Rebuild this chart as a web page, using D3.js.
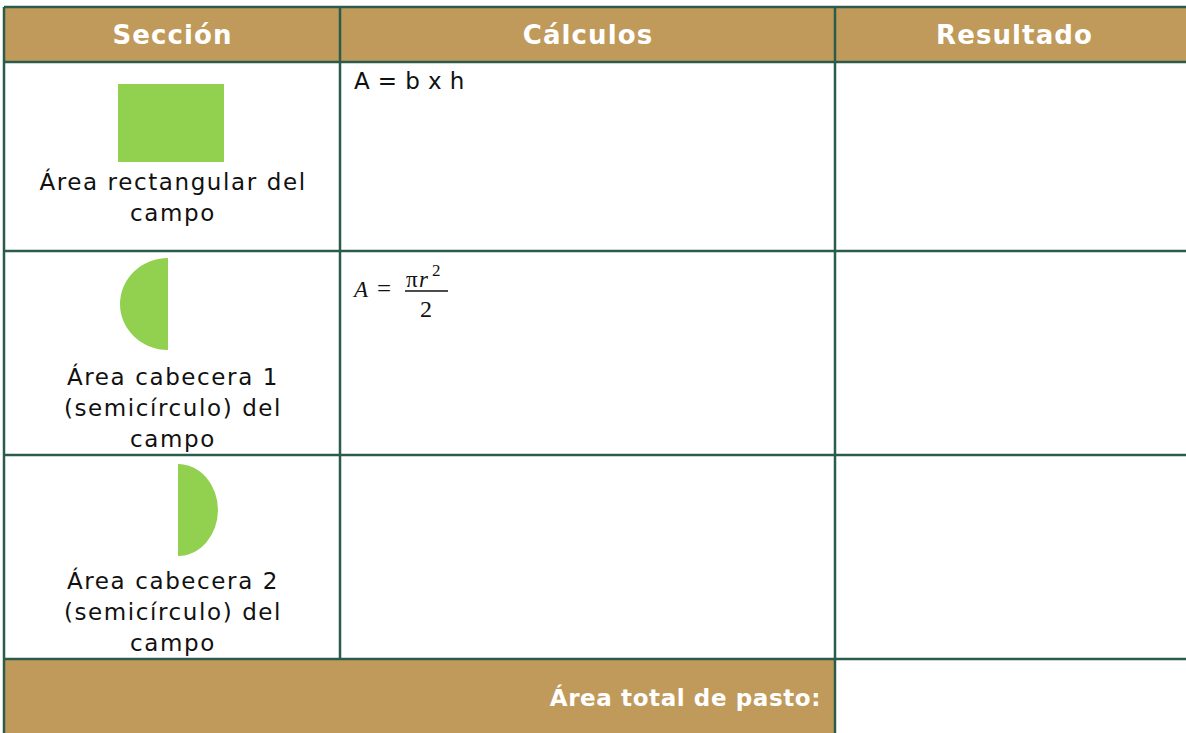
<!DOCTYPE html>
<html><head><meta charset="utf-8">
<script src="https://cdn.jsdelivr.net/npm/d3@7"></script>
<style>html,body{margin:0;padding:0;background:#fff;overflow:hidden}</style>
</head><body>
<svg id="c" width="1186" height="733"></svg>
<script>
const headers = ["Sección", "Cálculos", "Resultado"];
const sectionLabels = [
  ["Área rectangular del", "campo"],
  ["Área cabecera 1", "(semicírculo) del", "campo"],
  ["Área cabecera 2", "(semicírculo) del", "campo"]
];
const shapes = ["rect", "leftHalf", "rightHalf"];
const calcs = ["A = b x h", "fraction", ""];
const footerLabel = "Área total de pasto:";

const gold = "#C09A5B", line = "#2B5B4A", green = "#92D050";
const svg = d3.select("#c");
const font = "'DejaVu Sans', sans-serif";

const colX = d3.scaleOrdinal().domain([0,1,2,3]).range([4, 340, 835, 1193]);
const rowY = d3.scaleOrdinal().domain([0,1,2,3,4,5]).range([7, 62, 251, 455, 659, 740]);

svg.append("rect").attr("x", colX(0)).attr("y", rowY(0)).attr("width", colX(3)-colX(0)).attr("height", rowY(1)-rowY(0)).attr("fill", gold);
svg.append("rect").attr("x", colX(0)).attr("y", rowY(4)).attr("width", colX(2)-colX(0)).attr("height", rowY(5)-rowY(4)).attr("fill", gold);

svg.selectAll("text.h").data(headers).join("text").attr("class","h")
  .attr("x", (d,i)=> (colX(i)+colX(i+1))/2 + 0.5).attr("y", 44)
  .attr("text-anchor","middle").attr("fill","#fff").attr("font-family", font)
  .attr("font-weight", 700).attr("font-size", 26).attr("letter-spacing", 1.1).text(d=>d);

sectionLabels.forEach((lines, r) => {
  const y0 = rowY(r+1);
  const base = r===0 ? 128 : 134;
  svg.append("g").selectAll("text").data(lines).join("text")
    .attr("x", 173).attr("y", (d,i)=> y0 + base + i*31)
    .attr("text-anchor","middle").attr("fill","#111").attr("font-family", font)
    .attr("font-size", 23).attr("letter-spacing", 1.6).text(d=>d);
});

const arcGen = d3.arc().innerRadius(0).outerRadius(46);
shapes.forEach((s, i) => {
  const y0 = rowY(i+1);
  if (s === "rect") {
    svg.append("rect").attr("x", 118).attr("y", y0+22).attr("width", 106).attr("height", 78).attr("fill", green);
  } else if (s === "leftHalf") {
    svg.append("path").attr("transform", `translate(168,${y0+53}) scale(${48/46},1)`)
      .attr("d", arcGen({startAngle: Math.PI, endAngle: 2*Math.PI})).attr("fill", green);
  } else {
    svg.append("path").attr("transform", `translate(178,${y0+55}) scale(${40/46},1)`)
      .attr("d", arcGen({startAngle: 0, endAngle: Math.PI})).attr("fill", green);
  }
});

calcs.forEach((c, i) => {
  const y0 = rowY(i+1);
  if (c === "fraction") {
    const g = svg.append("g").attr("font-family", "'Liberation Serif', 'DejaVu Serif', serif").attr("fill", "#111");
    g.append("text").attr("x", 354).attr("y", y0+46).attr("font-style","italic").attr("font-size", 23).text("A");
    g.append("text").attr("x", 377).attr("y", y0+46).attr("font-size", 25).text("=");
    g.append("line").attr("x1", 405).attr("x2", 448).attr("y1", y0+40).attr("y2", y0+40).attr("stroke","#111").attr("stroke-width",1.5);
    g.append("text").attr("x", 406).attr("y", y0+36).attr("font-size", 23).text("π");
    g.append("text").attr("x", 419).attr("y", y0+36).attr("font-style","italic").attr("font-size", 23).text("r");
    g.append("text").attr("x", 432).attr("y", y0+25).attr("font-size", 17).text("2");
    g.append("text").attr("x", 426).attr("y", y0+66).attr("text-anchor","middle").attr("font-size", 24).text("2");
  } else if (c) {
    svg.append("text").attr("x", 354).attr("y", y0+27).attr("font-family", font).attr("font-size", 23)
      .attr("letter-spacing", 0.4).attr("fill","#111").text(c);
  }
});

svg.append("text").attr("x", 821).attr("y", rowY(4)+47).attr("text-anchor","end").attr("fill","#fff")
  .attr("font-family", font).attr("font-weight",700).attr("font-size", 23).attr("letter-spacing", 0.6).text(footerLabel);

const sw = 2.5;
[0,1,2,3,4].forEach(k => {
  svg.append("line").attr("x1", colX(0)).attr("x2", colX(3)).attr("y1", rowY(k)).attr("y2", rowY(k)).attr("stroke", line).attr("stroke-width", sw);
});
svg.append("line").attr("x1", colX(0)).attr("x2", colX(0)).attr("y1", rowY(0)).attr("y2", rowY(5)).attr("stroke", line).attr("stroke-width", sw);
svg.append("line").attr("x1", colX(1)).attr("x2", colX(1)).attr("y1", rowY(0)).attr("y2", rowY(4)).attr("stroke", line).attr("stroke-width", sw);
svg.append("line").attr("x1", colX(2)).attr("x2", colX(2)).attr("y1", rowY(0)).attr("y2", rowY(5)).attr("stroke", line).attr("stroke-width", sw);
</script>
</body></html>
